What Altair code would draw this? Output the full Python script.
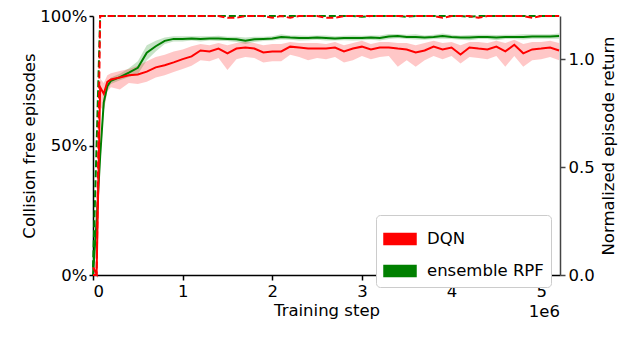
import altair as alt
import pandas as pd

# Training step (in units of 1e6)
steps = [0, 0.04, 0.08, 0.12, 0.16, 0.2, 0.3, 0.4, 0.5, 0.6, 0.7, 0.8, 0.9, 1.0,
         1.1, 1.2, 1.3, 1.4, 1.5, 1.6, 1.7, 1.8, 1.9, 2.0, 2.1, 2.2, 2.3, 2.4, 2.5,
         2.6, 2.7, 2.8, 2.9, 3.0, 3.1, 3.2, 3.3, 3.4, 3.5, 3.6, 3.7, 3.8, 3.9, 4.0,
         4.1, 4.2, 4.3, 4.4, 4.5, 4.6, 4.7, 4.8, 4.9, 5.0, 5.1, 5.2]

methods = ["DQN", "ensemble RPF"]
colors = ["#ff0000", "#008000"]

# Normalized episode return (right axis)
dqn_return = [0.036, 0.005, 0.87, 0.84, 0.895, 0.906, 0.915, 0.925, 0.929, 0.942, 0.962, 0.972,
              0.985, 1.0, 1.013, 1.040, 1.036, 1.049, 1.027, 1.049, 1.054, 1.049, 1.031, 1.036,
              1.036, 1.058, 1.054, 1.049, 1.049, 1.049, 1.054, 1.036, 1.049, 1.058, 1.045, 1.054,
              1.054, 1.049, 1.045, 1.031, 1.040, 1.058, 1.045, 1.054, 1.022, 1.054, 1.049, 1.045,
              1.058, 1.036, 1.067, 1.027, 1.045, 1.049, 1.054, 1.040]
dqn_hi = [0.04, 0.02, 0.91, 0.89, 0.925, 0.935, 0.945, 0.955, 0.97, 0.99, 1.01, 1.02, 1.035,
          1.045, 1.06, 1.07, 1.065, 1.075, 1.065, 1.075, 1.08, 1.075, 1.065, 1.07, 1.07, 1.08,
          1.075, 1.075, 1.075, 1.07, 1.08, 1.065, 1.075, 1.085, 1.07, 1.08, 1.08, 1.075, 1.075,
          1.065, 1.075, 1.085, 1.075, 1.08, 1.065, 1.08, 1.08, 1.075, 1.085, 1.075, 1.09, 1.07,
          1.08, 1.08, 1.085, 1.075]
dqn_lo = [0.0, 0.0, 0.78, 0.76, 0.85, 0.87, 0.86, 0.89, 0.885, 0.895, 0.915, 0.925, 0.94, 0.955,
          0.97, 0.995, 0.99, 1.005, 0.95, 1.0, 1.01, 1.005, 0.985, 0.99, 0.99, 1.02, 1.01,
          0.995, 1.005, 1.0, 1.01, 0.985, 0.995, 1.015, 1.0, 1.01, 1.015, 0.965, 0.995, 0.965,
          0.995, 1.015, 1.0, 1.015, 0.98, 1.01, 1.005, 1.0, 1.015, 0.965, 1.015, 0.965, 0.995,
          1.0, 1.01, 0.995]

rpf_return = [0.0, 0.25, 0.55, 0.80, 0.875, 0.90, 0.917, 0.9375, 0.96, 1.03, 1.06, 1.085, 1.094,
              1.094, 1.096, 1.094, 1.096, 1.096, 1.094, 1.092, 1.085, 1.092, 1.094, 1.096, 1.103,
              1.100, 1.098, 1.098, 1.100, 1.098, 1.096, 1.098, 1.098, 1.098, 1.100, 1.098, 1.105,
              1.107, 1.103, 1.103, 1.100, 1.103, 1.107, 1.103, 1.100, 1.100, 1.103, 1.103, 1.100,
              1.103, 1.103, 1.103, 1.105, 1.105, 1.105, 1.107]
rpf_spread = [0.01, 0.05, 0.05, 0.04, 0.02, 0.015, 0.015, 0.02, 0.03, 0.035, 0.025, 0.015, 0.012,
              0.012, 0.01, 0.012, 0.01, 0.012, 0.01, 0.012, 0.015, 0.012, 0.01, 0.01, 0.012, 0.01,
              0.012, 0.01, 0.01, 0.012, 0.01, 0.01, 0.012, 0.01, 0.01, 0.012, 0.012, 0.01, 0.01,
              0.012, 0.01, 0.01, 0.012, 0.01, 0.01, 0.012, 0.01, 0.01, 0.012, 0.01, 0.01, 0.012,
              0.01, 0.01, 0.01, 0.012]

# Collision free episodes (left axis, fraction)
dqn_cf = [0.0, 0.0, 1.0, 1.0, 1.0, 1.0, 1.0, 1.0, 1.0, 1.0, 1.0, 1.0, 1.0, 1.0, 1.0, 1.0, 1.0,
          1.0, 0.993, 0.993, 1.0, 1.0, 1.0, 0.993, 1.0, 0.993, 1.0, 1.0, 1.0, 0.993, 0.993, 1.0,
          1.0, 1.0, 1.0, 1.0, 1.0, 1.0, 1.0, 1.0, 1.0, 1.0, 0.993, 1.0, 1.0, 1.0, 0.993, 1.0,
          1.0, 1.0, 1.0, 1.0, 0.993, 1.0, 1.0, 1.0]
rpf_cf = [0.03, 0.5, 1.0, 1.0, 1.0, 1.0, 1.0, 1.0, 1.0, 1.0, 1.0, 1.0, 1.0, 1.0, 1.0, 1.0, 1.0,
          1.0, 1.0, 1.0, 1.0, 1.0, 1.0, 1.0, 1.0, 1.0, 1.0, 1.0, 1.0, 1.0, 1.0, 1.0, 1.0, 0.997,
          1.0, 1.0, 1.0, 1.0, 0.997, 1.0, 1.0, 1.0, 1.0, 1.0, 1.0, 0.997, 1.0, 1.0, 1.0, 1.0,
          1.0, 1.0, 1.0, 1.0, 1.0, 1.0]

rows = []
for i, s in enumerate(steps):
    rows.append({"step": s, "method": "ensemble RPF", "ord": 0, "ret": rpf_return[i],
                 "lo": rpf_return[i] - rpf_spread[i], "hi": rpf_return[i] + rpf_spread[i],
                 "cf": rpf_cf[i]})
for i, s in enumerate(steps):
    rows.append({"step": s, "method": "DQN", "ord": 1, "ret": dqn_return[i], "lo": dqn_lo[i],
                 "hi": dqn_hi[i], "cf": dqn_cf[i]})
df = pd.DataFrame(rows)

W, H = 467, 259
FONT = "DejaVu Sans"
FS = 16.5

color_scale = alt.Scale(domain=methods, range=colors)
x_enc = alt.X("step:Q", scale=alt.Scale(domain=[0, 5.21], nice=False, zero=False),
              axis=alt.Axis(values=[0, 1, 2, 3, 4, 5], format="d", title="Training step",
                            titlePadding=3))
right_scale = alt.Scale(domain=[0, 1.2], nice=False)
right_axis = alt.Axis(orient="right", values=[0, 0.5, 1.0], format=".1f",
                      title="Normalized episode return", titleAngle=270, titleBaseline="top",
                      titlePadding=6, domainColor="#444444", tickColor="#444444")

base = alt.Chart(df)

band = base.mark_area(opacity=0.22).encode(
    x=x_enc,
    y=alt.Y("lo:Q", scale=right_scale, axis=right_axis),
    y2="hi:Q",
    fill=alt.Fill("method:N", scale=color_scale,
                  legend=alt.Legend(title=None, orient="none", legendX=W - 184, legendY=H - 60,
                                    symbolType="M-1,-0.35H1V0.35H-1Z", symbolSize=1024,
                                    symbolOpacity=1, labelFontSize=FS, labelFont=FONT,
                                    labelColor="black",
                                    fillColor="white", strokeColor="#cccccc", cornerRadius=4,
                                    padding=7, rowPadding=6, labelOffset=10)),
    order=alt.Order("ord:Q"),
)

ret_line = base.mark_line(strokeWidth=2).encode(
    x=x_enc,
    y=alt.Y("ret:Q", scale=right_scale, axis=right_axis),
    stroke=alt.Stroke("method:N", scale=color_scale, legend=None),
)

right = alt.layer(band, ret_line)

cf_line = base.mark_line(strokeWidth=2, strokeDash=[7, 3], clip=False).encode(
    x=x_enc,
    y=alt.Y("cf:Q", scale=alt.Scale(domain=[0, 1], nice=False),
            axis=alt.Axis(orient="left", values=[0, 0.5, 1], format=".0%",
                          title="Collision free episodes", titlePadding=2,
                          tickSize=4, labelPadding=2)),
    stroke=alt.Stroke("method:N", scale=color_scale, legend=None),
)

sci = alt.Chart(pd.DataFrame({"t": ["1e6"]})).mark_text(
    align="right", baseline="middle", fontSize=FS, font=FONT, color="black"
).encode(x=alt.value(W), y=alt.value(H + 37), text="t:N")

chart = alt.layer(right, cf_line, sci).resolve_scale(y="independent").properties(
    width=W, height=H,
    padding={"left": 13, "top": 0, "right": 5, "bottom": 5},
).configure_view(stroke=None).configure_axis(
    labelFont=FONT, titleFont=FONT, labelFontSize=FS, titleFontSize=FS,
    titleFontWeight="normal", grid=False, domainColor="black", tickColor="black",
    labelColor="black", titleColor="black", tickSize=5, domainWidth=1.5, tickWidth=1.5,
    labelPadding=3,
)

chart.save("out.html", embed_options={"renderer": "svg", "actions": False})
